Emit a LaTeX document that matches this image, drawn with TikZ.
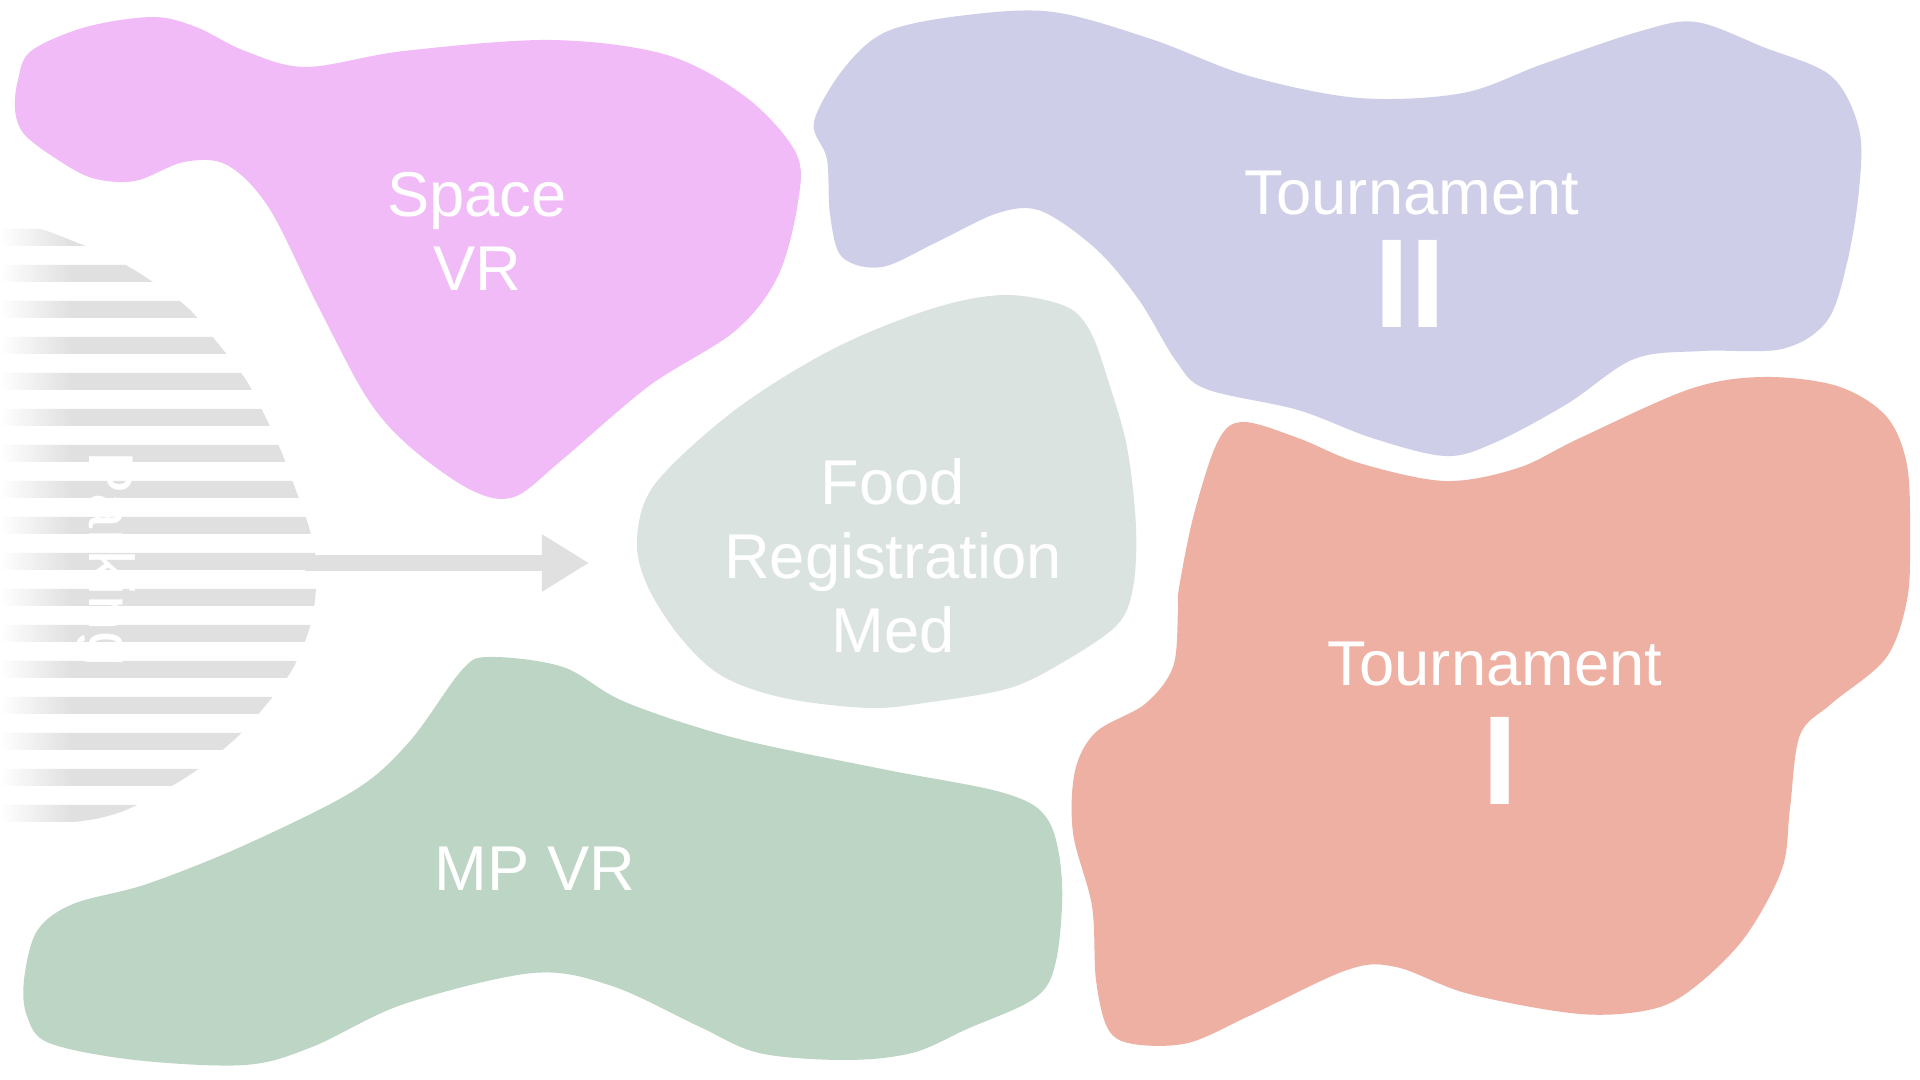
\documentclass[tikz,border=0pt]{standalone}
\usepackage{fontspec}
\setmainfont{Liberation Sans}
\usetikzlibrary{arrows.meta}

\definecolor{spacepink}{HTML}{F1BBF7}
\definecolor{tourpurple}{HTML}{CFCEE9}
\definecolor{foodgray}{HTML}{DBE3E0}
\definecolor{mpgreen}{HTML}{BDD5C4}
\definecolor{toursalmon}{HTML}{EDB0A2}
\definecolor{stripegray}{HTML}{E0E0E0}

% stripes fade in from the left border
\pgfdeclarehorizontalshading{stripefade}{100bp}{color(0bp)=(white); color(25bp)=(white); color(35.5bp)=(stripegray); color(100bp)=(stripegray)}

\tikzset{
	blob/.style={smooth cycle,tension=0.55},
	blobtext/.style={text=white,font=\fontsize{18}{21}\selectfont,align=center,inner sep=0pt,anchor=north},
	numtext/.style={text=white,font=\fontsize{36}{36}\selectfont\bfseries,inner sep=0pt,anchor=north},
	flowarrow/.style={draw=stripegray,line width=4.4pt,-{Triangle[length=13.4pt,width=15.4pt]}}
}

\begin{document}
\begin{tikzpicture}[x=0.01cm,y=-0.01cm]

	\pgfmathsetmacro{\stripeh}{17}
	\pgfmathsetmacro{\stripegap}{36}

	\useasboundingbox (0,0) rectangle (1920,1080);
	\fill[white] (0,0) rectangle (1920,1080);

	% parking blob, only its stripes show
	\begin{scope}
		\clip plot[blob] coordinates {(12,224) (83,245) (122,263) (153,282) (189,309) (220,346) (246,380) (265,416) (281,451) (295,488) (308,524) (316,560) (315,600) (308,633) (292,670) (266,705) (234,740) (185,778) (118,813) (50,823) (-60,815) (-200,680) (-220,520) (-180,340) (-80,245)};
		\shade[shading=stripefade] \foreach \i in {0,...,16}{(0,229+\stripegap*\i) rectangle (340,229+\stripegap*\i+\stripeh)};
	\end{scope}
	\node[rotate=-90,anchor=base,text=white,font=\fontsize{18}{21}\selectfont,inner sep=0pt] (parking) at (89,559) {Parking};

	% arrow parking -> food
	\coordinate (parkout) at (305,563);
	\coordinate (foodin) at (589,563);
	\draw[flowarrow] (parkout) -- (foodin);

	% space vr
	\fill[spacepink] plot[blob] coordinates {(18,80) (31,51) (86,27) (153,17) (196,27) (245,51) (306,67) (404,51) (551,40) (667,55) (747,98) (796,153) (798,202) (778,276) (735,331) (649,386) (563,459) (514,497) (471,490) (410,447) (367,398) (318,306) (269,208) (227,165) (184,162) (135,181) (92,178) (55,158) (24,134) (15,110)};

	% tournament II
	\fill[tourpurple] plot[blob] coordinates {(814,122) (845,67) (888,31) (967,15) (1053,12) (1151,39) (1249,76) (1359,98) (1463,93) (1543,64) (1641,31) (1696,22) (1763,47) (1831,76) (1859,129) (1859,190) (1847,263) (1827,321) (1782,349) (1702,351) (1634,359) (1567,404) (1494,443) (1445,456) (1372,438) (1298,410) (1206,389) (1176,361) (1139,300) (1096,249) (1041,211) (998,213) (937,242) (882,267) (842,257) (830,214) (827,159)};

	% food registration med
	\fill[foodgray] plot[blob] coordinates {(637,539) (655,484) (735,410) (833,349) (931,309) (1004,295) (1065,306) (1090,331) (1108,380) (1127,447) (1136,527) (1133,588) (1117,625) (1065,661) (1010,688) (931,702) (869,708) (784,698) (722,676) (680,637) (647,585)};

	% mp vr
	\fill[mpgreen] plot[blob] coordinates {(24,980) (37,931) (73,904) (147,884) (245,845) (355,790) (410,741) (462,670) (490,657) (563,667) (625,702) (735,738) (882,769) (1004,793) (1048,820) (1062,882) (1056,961) (1035,998) (967,1029) (912,1053) (845,1060) (759,1053) (698,1026) (612,986) (533,973) (404,1004) (312,1047) (245,1065) (135,1060) (49,1043) (27,1016)};

	% tournament I
	\fill[toursalmon] plot[blob] coordinates {(1179,588) (1194,514) (1218,441) (1243,422) (1298,438) (1359,463) (1445,481) (1518,468) (1580,438) (1690,389) (1763,377) (1837,386) (1886,416) (1907,465) (1910,539) (1907,600) (1886,658) (1831,704) (1800,735) (1790,808) (1782,869) (1745,937) (1696,986) (1653,1009) (1580,1014) (1469,994) (1396,967) (1347,970) (1249,1016) (1188,1043) (1133,1044) (1108,1029) (1096,980) (1092,906) (1073,833) (1075,771) (1096,732) (1145,704) (1173,667) (1178,612)};

	% texts
	\node[blobtext] (space) at (477,172) {Space\\VR};
	\node[blobtext] (food) at (893,458) {Food\\Registration\\Med};
	\node[blobtext] (mpvr) at (535,846) {MP VR};
	\node[blobtext] (tourtwo) at (1412,170) {Tournament};
	\node[numtext] (tourtwonum) at (1410,240) {II};
	\node[blobtext] (tourone) at (1495,641) {Tournament};
	\node[numtext] (touronenum) at (1500,717) {I};

\end{tikzpicture}
\end{document}
